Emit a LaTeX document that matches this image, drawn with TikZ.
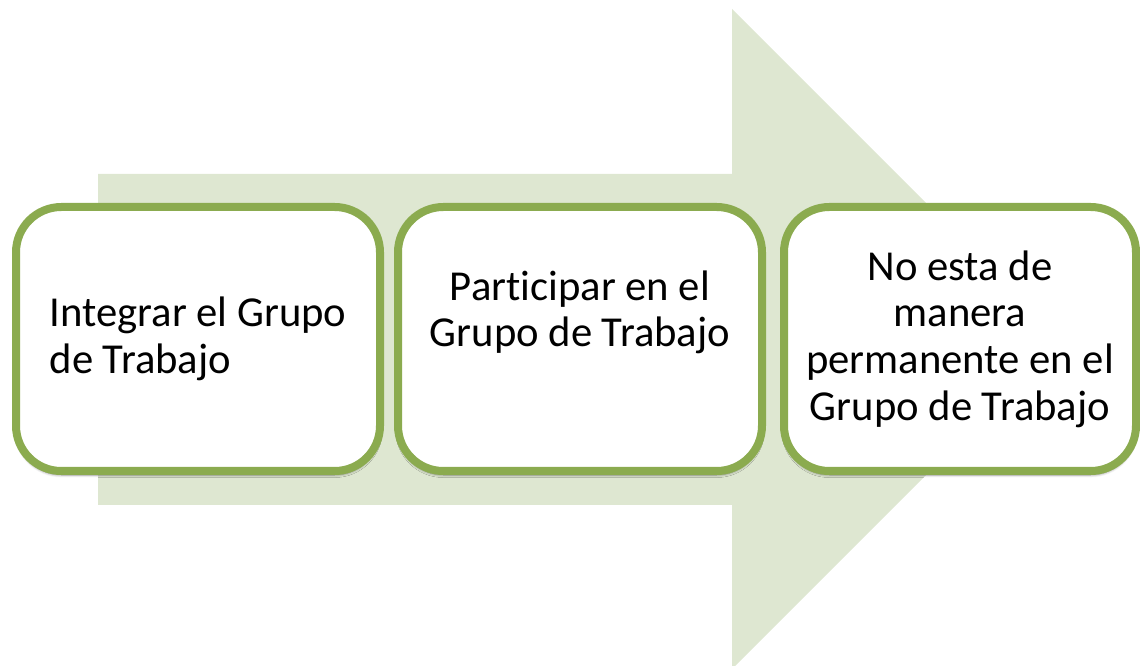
\documentclass[tikz,border=0pt]{standalone}
\usepackage{fontspec}
\setmainfont{Carlito}[Ligatures=NoCommon]
\usetikzlibrary{positioning, shadows.blur}
\definecolor{stagegreen}{RGB}{139,171,79}
\definecolor{arrowgreen}{RGB}{222,231,209}
\tikzstyle{stage} = [rectangle, rounded corners=34pt, minimum width=273pt, minimum height=198pt, align=center, draw=stagegreen, line width=6pt, fill=white, font=\fontsize{32}{35}\selectfont, blur shadow={shadow xshift=0pt, shadow yshift=-3pt, shadow blur steps=6, shadow opacity=45}]

\begin{document}
\begin{tikzpicture}[x=0.75pt, y=-0.75pt]
\clip (0,0) rectangle (1140,666);
% big arrow behind the stages
\fill[arrowgreen] (98,174) -- (732,174) -- (732,9) -- (1062,339) -- (732,669) -- (732,505) -- (98,505) -- cycle;

\node (join) [stage, align=left] at (198,339) {Integrar el Grupo\\de Trabajo};
\node (part) [stage, right=7.5pt of join] {Participar en el\\Grupo de Trabajo\\\strut};
\node (stay) [stage, minimum width=264pt, right=10.5pt of part] {No esta de\\manera\\permanente en el\\Grupo de Trabajo};
\end{tikzpicture}
\end{document}
